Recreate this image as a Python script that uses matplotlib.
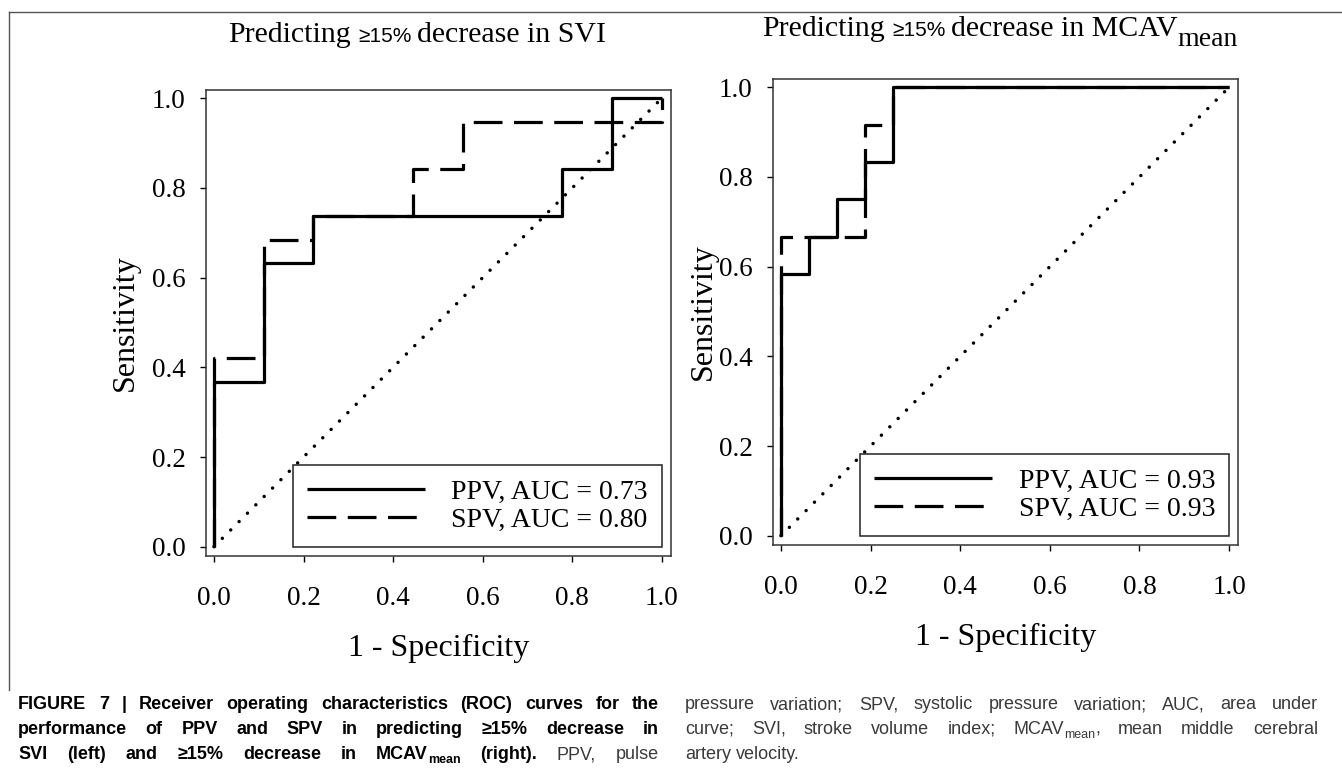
import matplotlib
matplotlib.use("Agg")
import matplotlib.pyplot as plt
from matplotlib.lines import Line2D
from matplotlib.transforms import IdentityTransform

# ROC corner points (1 - specificity, sensitivity)
svi_ppv_fpr = [0.0, 0.0, 0.111, 0.222, 0.778, 0.889, 1.0]
svi_ppv_tpr = [0.0, 0.368, 0.632, 0.737, 0.842, 1.0, 1.0]
svi_spv_fpr = [0.0, 0.0, 0.111, 0.222, 0.444, 0.556, 1.0, 1.0]
svi_spv_tpr = [0.0, 0.421, 0.684, 0.737, 0.842, 0.947, 0.947, 1.0]

mcav_ppv_fpr = [0.0, 0.0, 0.0625, 0.125, 0.1875, 0.25, 1.0]
mcav_ppv_tpr = [0.0, 0.583, 0.667, 0.75, 0.833, 1.0, 1.0]
mcav_spv_fpr = [0.0, 0.0, 0.1875, 0.25, 1.0]
mcav_spv_tpr = [0.0, 0.667, 0.917, 1.0, 1.0]

svi_labels = ["PPV, AUC = 0.73", "SPV, AUC = 0.80"]
mcav_labels = ["PPV, AUC = 0.93", "SPV, AUC = 0.93"]
ticks = [0.0, 0.2, 0.4, 0.6, 0.8, 1.0]

W, H = 1342, 779
SERIF = "Liberation Serif"
SANS = "Liberation Sans"

fig = plt.figure(figsize=(W / 100, H / 100), dpi=100)
renderer = fig.canvas.get_renderer()


def put_runs(x, y_top, runs, ha="left"):
    """runs: (text, font kwargs, dy px downward), placed one after another"""
    objs = []
    for s, kw, dy in runs:
        t = fig.text(0, 0, s, transform=IdentityTransform(), va="baseline", ha="left", **kw)
        objs.append((t, dy))
    widths = [t.get_window_extent(renderer).width for t, _ in objs]
    x0 = x - sum(widths) / 2 if ha == "center" else x
    for (t, dy), w in zip(objs, widths):
        t.set_position((x0, H - y_top - dy))
        x0 += w


def space_width(kw):
    a = fig.text(0, 0, "n n", **kw)
    b = fig.text(0, 0, "nn", **kw)
    w = a.get_window_extent(renderer).width - b.get_window_extent(renderer).width
    a.remove()
    b.remove()
    return w


def draw_panel(rect, ppv, spv, labels, lab_x):
    ax = fig.add_axes(rect)
    l1, = ax.plot(ppv[0], ppv[1], drawstyle="steps-post", color="black", lw=2.3,
                  solid_capstyle="butt", label=labels[0])
    l2, = ax.plot(spv[0], spv[1], drawstyle="steps-post", color="black", lw=2.3,
                  linestyle=(0, (9, 3.6)), dash_capstyle="butt", label=labels[1])
    ax.plot([0, 1], [0, 1], color="black", lw=2.5, linestyle=(0, (0.01, 3.4)),
            dash_capstyle="round")
    ax.set_xlim(-0.0185, 1.020)
    ax.set_ylim(-0.0207, 1.0185)
    ax.set_xticks(ticks)
    ax.set_yticks(ticks)
    ax.set_xticklabels([f"{t:.1f}" for t in ticks], fontfamily=SERIF, fontsize=19.5)
    ax.set_yticklabels([f"{t:.1f}" for t in ticks], fontfamily=SERIF, fontsize=19.5)
    ax.tick_params(direction="out", length=4.5, width=1.0, color="black")
    ax.tick_params(axis="x", pad=17)
    ax.tick_params(axis="y", pad=10)
    for s in ax.spines.values():
        s.set_linewidth(1.1)
        s.set_color("#333333")
    ax.set_xlabel("1 - Specificity", fontfamily=SERIF, fontsize=23)
    ax.set_ylabel("Sensitivity", fontfamily=SERIF, fontsize=23, va="center")
    ax.xaxis.set_label_coords(0.5, -0.168)
    ax.yaxis.set_label_coords(lab_x, 0.5)
    leg = ax.legend(handles=[l1, l2], loc="lower right", bbox_to_anchor=(1.0, 0.0),
                    bbox_transform=ax.transData, borderaxespad=0,
                    prop={"family": SERIF, "size": 20}, handlelength=4.25,
                    handletextpad=0.95, borderpad=0.5, labelspacing=0.1,
                    fancybox=False, framealpha=1, edgecolor="#222222")
    leg.get_frame().set_linewidth(1.1)
    return ax


draw_panel([205.7 / W, 1 - 556 / H, 465 / W, 466 / H],
           (svi_ppv_fpr, svi_ppv_tpr), (svi_spv_fpr, svi_spv_tpr), svi_labels, -0.173)
draw_panel([772.7 / W, 1 - 545 / H, 465.3 / W, 466 / H],
           (mcav_ppv_fpr, mcav_ppv_tpr), (mcav_spv_fpr, mcav_spv_tpr), mcav_labels, -0.150)

# titles
tserif = {"family": SERIF, "size": 21.5}
tsans = {"family": SANS, "size": 15}
put_runs(417, 42, [("Predicting", tserif, 0), (" ", tserif, 0), ("\u2265" + "15%", tsans, 0),
                   (" ", tsans, 0), ("decrease in SVI", tserif, 0)], ha="center")
put_runs(1000, 36, [("Predicting", tserif, 0), (" ", tserif, 0), ("\u2265" + "15%", tsans, 0),
                    (" ", tsans, 0), ("decrease in MCAV", tserif, 0),
                    ("mean", {"family": SERIF, "size": 20}, 10)], ha="center")

# frame lines of the figure panel
fig.add_artist(Line2D([8.6 / W, 1.0], [1 - 12 / H, 1 - 12 / H], transform=fig.transFigure,
                      color="#555555", lw=1.0))
fig.add_artist(Line2D([8.6 / W, 8.6 / W], [1 - 12 / H, 1 - 690 / H], transform=fig.transFigure,
                      color="#555555", lw=1.0))

# caption, justified in two columns
cb = {"family": SANS, "size": 13, "weight": "bold", "color": "black"}
cr = {"family": SANS, "size": 13, "color": "#3a3a3a"}
cb_sub = {"family": SANS, "size": 9, "weight": "bold", "color": "black"}
cr_sub = {"family": SANS, "size": 9, "color": "#3a3a3a"}
GE = "\u2265"


def words(text, kw):
    return [[(w, kw, 0)] for w in text.split()]


left_lines = [
    (words("FIGURE 7 | Receiver operating characteristics (ROC) curves for the", cb), True),
    (words(f"performance of PPV and SPV in predicting {GE}15% decrease in", cb), True),
    (words(f"SVI (left) and {GE}15% decrease in", cb)
     + [[("MCAV", cb, 0), ("mean", cb_sub, 4)], [("(right).", cb, 0)]]
     + words("PPV, pulse", cr), True),
]
right_lines = [
    (words("pressure variation; SPV, systolic pressure variation; AUC, area under", cr), True),
    (words("curve; SVI, stroke volume index;", cr)
     + [[("MCAV", cr, 0), ("mean", cr_sub, 4), (",", cr, 0)]]
     + words("mean middle cerebral", cr), True),
    (words("artery velocity.", cr), False),
]

base_sp = space_width(cr)


def word_width(runs):
    tot = 0
    for s, kw, dy in runs:
        t = fig.text(0, 0, s, **kw)
        tot += t.get_window_extent(renderer).width
        t.remove()
    return tot


def draw_column(lines, x0, x1, y_first, step):
    for i, (wl, justify) in enumerate(lines):
        ws = [word_width(w) for w in wl]
        gap = (x1 - x0 - sum(ws)) / (len(wl) - 1) if justify else base_sp
        gap = max(gap, base_sp * 0.8)
        x = x0
        y = y_first + i * step
        for w, ww in zip(wl, ws):
            put_runs(x, y, w)
            x += ww + gap


draw_column(left_lines, 18, 659, 709, 25)
draw_column(right_lines, 685, 1318, 709, 25)

fig.savefig("out.png", dpi=100)
